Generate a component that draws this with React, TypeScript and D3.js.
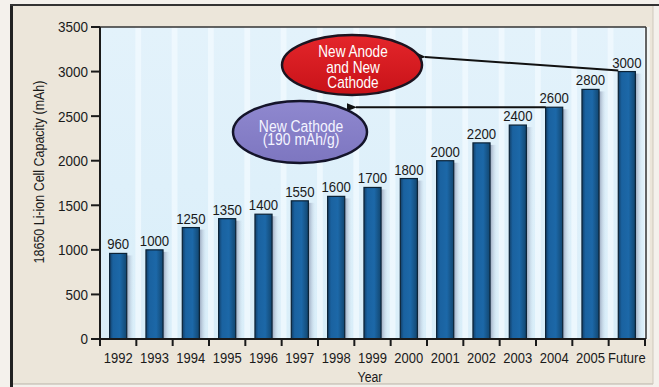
import React from "react";
import * as d3 from "d3";

const categories = ["1992", "1993", "1994", "1995", "1996", "1997", "1998", "1999", "2000", "2001", "2002", "2003", "2004", "2005", "Future"];
const capacities = [960, 1000, 1250, 1350, 1400, 1550, 1600, 1700, 1800, 2000, 2200, 2400, 2600, 2800, 3000];
const yTicks = [0, 500, 1000, 1500, 2000, 2500, 3000, 3500];
const yTitle = "18650 Li-ion Cell Capacity (mAh)";
const xTitle = "Year";
const redNote = ["New Anode", "and New", "Cathode"];
const purpleNote = ["New Cathode", "(190 mAh/g)"];

const W = 659;
const H = 387;
const FONT = "'Liberation Sans', Arial, Helvetica, sans-serif";

type CTProps = {
  x: number;
  y: number;
  size: number;
  sx?: number;
  anchor?: "start" | "middle" | "end";
  fill?: string;
  rotate?: number;
  dy?: string;
  children: React.ReactNode;
};

function CText({ x, y, size, sx = 0.85, anchor = "middle", fill = "#1a1a1a", rotate = 0, dy, children }: CTProps) {
  return (
    <text
      transform={`translate(${x},${y}) rotate(${rotate}) scale(${sx},1)`}
      textAnchor={anchor}
      fontSize={size}
      fill={fill}
      dy={dy}
    >
      {children}
    </text>
  );
}

export default function App() {
  const plotL = 100, plotR = 646, plotT = 27, plotB = 339;
  const x = d3.scaleBand<string>().domain(categories).range([plotL, plotR - 1]).paddingInner(0.53).paddingOuter(0.265);
  const y = d3.scaleLinear().domain([0, 3500]).range([plotB, plotT]);
  const step = x.step();
  const bw = x.bandwidth();
  const gapOff = (step - bw) / 2;

  const red = { cx: 352, cy: 65, rx: 70, ry: 30 };
  const pur = { cx: 300, cy: 132, rx: 67, ry: 31 };
  const futX = x("Future")!;
  const futY = y(3000);
  const b04X = x("2004")!;
  const b04Y = y(2600);

  return (
    <svg width={W} height={H} style={{ position: "absolute", left: 0, top: 0 }} fontFamily={FONT}>
      <defs>
        <linearGradient id="barG" x1="0" x2="1" y1="0" y2="0">
          <stop offset="0" stopColor="#123f68" />
          <stop offset="0.2" stopColor="#1a62a0" />
          <stop offset="0.6" stopColor="#1c68a8" />
          <stop offset="1" stopColor="#12466f" />
        </linearGradient>
        <linearGradient id="shadowG" x1="0" x2="1" y1="0" y2="0">
          <stop offset="0" stopColor="#8f9bb3" stopOpacity="0.9" />
          <stop offset="1" stopColor="#c9dcec" stopOpacity="0" />
        </linearGradient>
        <linearGradient id="plotG" x1="0" x2="0" y1="0" y2="1">
          <stop offset="0" stopColor="#e3f2fb" />
          <stop offset="1" stopColor="#d9eef9" />
        </linearGradient>
        <linearGradient id="redG" x1="0" x2="0" y1="0" y2="1">
          <stop offset="0" stopColor="#e4262b" />
          <stop offset="1" stopColor="#c81218" />
        </linearGradient>
        <linearGradient id="purG" x1="0" x2="0" y1="0" y2="1">
          <stop offset="0" stopColor="#8f88cf" />
          <stop offset="1" stopColor="#7d76c0" />
        </linearGradient>
        <marker id="arr" viewBox="0 0 10 8" refX="1" refY="4" markerWidth="10" markerHeight="8" markerUnits="userSpaceOnUse" orient="auto-start-reverse">
          <path d="M10,0 L0,4 L10,8 Z" fill="#111" />
        </marker>
      </defs>

      <rect x={0} y={0} width={W} height={H} fill="#f4f1ec" />
      <rect x={12} y={5} width={641} height={379} fill="#ece6da" />
      <line x1={12} x2={653} y1={384} y2={384} stroke="#b9b3a8" strokeWidth={1} />
      <line x1={653} x2={653} y1={5} y2={384} stroke="#cfc9bd" strokeWidth={1} />
      <line x1={11.5} x2={11.5} y1={4} y2={387} stroke="#222" strokeWidth={3} />
      <line x1={10} x2={659} y1={5} y2={5} stroke="#333" strokeWidth={2} />

      <rect x={plotL} y={plotT} width={plotR - plotL} height={plotB - plotT} fill="url(#plotG)" />
      {categories.map((c) => (
        <rect key={"hl" + c} x={x(c)! + bw + gapOff * 0.9} y={plotT} width={gapOff * 0.6} height={plotB - plotT} fill="#f3fbff" opacity={0.7} />
      ))}
      <line x1={plotL} x2={plotR} y1={plotT} y2={plotT} stroke="#333" strokeWidth={1.5} />
      <line x1={plotR} x2={plotR} y1={plotT} y2={plotB} stroke="#333" strokeWidth={1.5} />

      {categories.map((c, i) => (
        <g key={c}>
          <rect x={x(c)! + bw} y={y(capacities[i]) + 2} width={7} height={plotB - y(capacities[i]) - 2} fill="url(#shadowG)" />
          <rect x={x(c)!} y={y(capacities[i])} width={bw} height={plotB - y(capacities[i])} fill="url(#barG)" stroke="#0b2236" strokeWidth={1.2} />
          <CText x={x(c)! + bw / 2} y={y(capacities[i]) - 4} size={15} sx={0.88}>
            {capacities[i]}
          </CText>
        </g>
      ))}

      <line x1={plotL} x2={plotL} y1={plotT} y2={plotB + 4} stroke="#1a1a1a" strokeWidth={2} />
      <line x1={plotL - 5} x2={plotR} y1={plotB} y2={plotB} stroke="#1a1a1a" strokeWidth={2} />
      {yTicks.map((t) => (
        <g key={"yt" + t}>
          <line x1={plotL - 9} x2={plotL} y1={y(t)} y2={y(t)} stroke="#1a1a1a" strokeWidth={2} />
          <CText x={plotL - 12} y={y(t)} dy="0.36em" anchor="end" size={15} sx={0.9}>
            {t}
          </CText>
        </g>
      ))}
      {d3.range(categories.length + 1).map((k) => (
        <line key={"xt" + k} x1={plotL + k * step} x2={plotL + k * step} y1={plotB} y2={plotB + 7} stroke="#1a1a1a" strokeWidth={2} />
      ))}
      {categories.map((c) => (
        <CText key={"xl" + c} x={x(c)! + bw / 2} y={363} size={15.5} sx={0.84}>
          {c}
        </CText>
      ))}
      <CText x={370} y={382} size={14.5} sx={0.85}>{xTitle}</CText>
      <CText x={44} y={172} rotate={-90} size={14} sx={0.89}>{yTitle}</CText>

      <line x1={futX} y1={futY - 1} x2={red.cx + red.rx + 3} y2={57} stroke="#111" strokeWidth={2} markerEnd="url(#arr)" />
      <line x1={b04X} y1={b04Y} x2={pur.cx + 56} y2={b04Y} stroke="#111" strokeWidth={2} markerEnd="url(#arr)" />

      <ellipse cx={red.cx} cy={red.cy} rx={red.rx} ry={red.ry} fill="url(#redG)" stroke="#1c1420" strokeWidth={2.5} />
      {redNote.map((s, i) => (
        <CText key={s} x={red.cx + 1} y={red.cy - 8 + i * 15.5} size={16} sx={0.85} fill="#fff">
          {s}
        </CText>
      ))}
      <ellipse cx={pur.cx} cy={pur.cy} rx={pur.rx} ry={pur.ry} fill="url(#purG)" stroke="#14142a" strokeWidth={2.5} />
      {purpleNote.map((s, i) => (
        <CText key={s} x={pur.cx + 1} y={pur.cy + i * 13} size={16} sx={0.87} fill="#f4f4ff">
          {s}
        </CText>
      ))}
    </svg>
  );
}
